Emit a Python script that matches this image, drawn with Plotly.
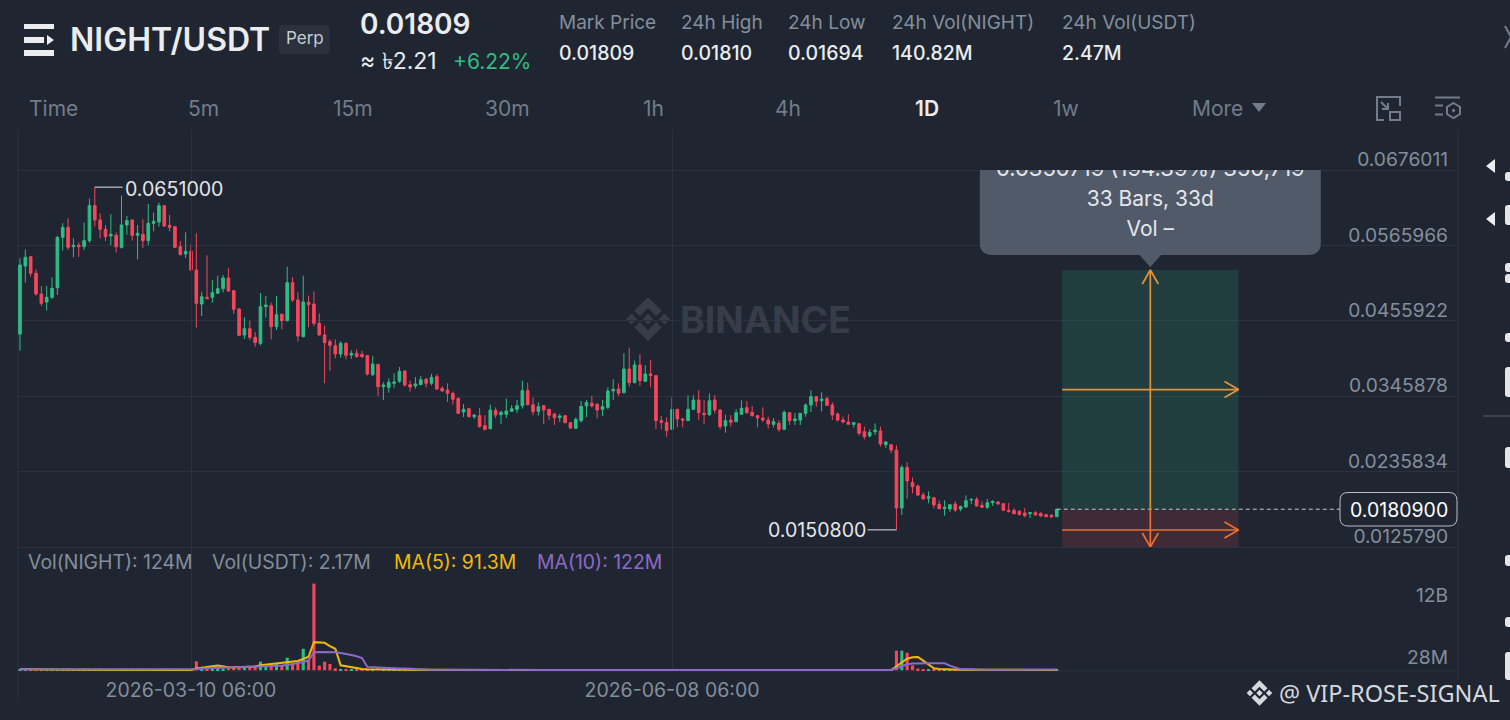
import pandas as pd
import plotly.graph_objects as go

# velas diarias
start_day = "2026-02-06 06:00"
opens = [
    .04367, .05359, .05495, .05252, .04950, .04834, .04902, .05043, .05777, .05923,
    .05641, .05661, .05641, .05729, .06240, .06030, .05894, .05797, .05807, .05632,
    .05957, .06030, .05807, .05821, .05729, .05982, .06001, .06240, .05953, .05933,
    .05641, .05534, .05573, .05301, .04804, .04902, .04902, .04960, .05028, .05184,
    .04999, .04731, .04352, .04444, .04318, .04230, .04766, .04780, .04474, .04654,
    .04561, .05116, .04863, .04328, .04829, .04804, .04522, .04352, .04255, .04196,
    .04075, .04230, .04060, .04085, .04070, .04051, .03773, .03924, .03598, .03588,
    .03647, .03676, .03827, .03627, .03608, .03627, .03705, .03647, .03744, .03574,
    .03549, .03501, .03428, .03228, .03277, .03160, .03175, .03029, .02985, .03253,
    .03189, .03194, .03238, .03267, .03321, .03540, .03335, .03238, .03321, .03267,
    .03199, .03146, .03175, .03073, .02990, .03102, .03316, .03355, .03340, .03267,
    .03296, .03535, .03564, .03510, .03856, .03656, .03914, .03676, .03783, .03759,
    .03102, .03077, .02975, .03267, .03126, .03102, .03267, .03403, .03209, .03189,
    .03403, .03257, .03024, .03111, .03087, .03194, .03291, .03223, .03175, .03140,
    .03111, .03048, .03063, .02975, .03218, .03102, .03111, .03209, .03330, .03452,
    .03393, .03423, .03330, .03199, .03111, .03082, .03048, .03058, .02941, .02878,
    .02941, .02951, .02751, .02751, .02673, .01827, .02420, .02201, .02148, .02017,
    .01968, .01978, .01880, .01817, .01812, .01885, .01812, .01841, .01944, .01953,
    .01866, .01837, .01905, .01914, .01890, .01793, .01793, .01778, .01754, .01744,
    .01759, .01749, .01730, .01720, .01700,
]
highs = [
    .05471, .05602, .05495, .05310, .05067, .05067, .05194, .05797, .05982, .06055,
    .05763, .05704, .05992, .06342, .06510, .06128, .05957, .06118, .05850, .06386,
    .06089, .06040, .05957, .06040, .06264, .06137, .06283, .06240, .06103, .05943,
    .05719, .05850, .05675, .05836, .04984, .05515, .05155, .05218, .05228, .05330,
    .05009, .04741, .04610, .04561, .04396, .04965, .04921, .04824, .04921, .04668,
    .05349, .05194, .04975, .05218, .04926, .04989, .04668, .04488, .04289, .04289,
    .04260, .04245, .04128, .04143, .04123, .04055, .04046, .03929, .03661, .03720,
    .03793, .03885, .03832, .03686, .03739, .03754, .03729, .03783, .03778, .03603,
    .03647, .03525, .03438, .03345, .03292, .03194, .03287, .03180, .03335, .03296,
    .03248, .03423, .03330, .03403, .03686, .03656, .03438, .03369, .03330, .03277,
    .03219, .03204, .03180, .03082, .03150, .03389, .03403, .03462, .03355, .03403,
    .03588, .03705, .03647, .04085, .04167, .03978, .04070, .03909, .03987, .03768,
    .03170, .03150, .03442, .03272, .03140, .03471, .03471, .03544, .03403, .03500,
    .03476, .03267, .03189, .03184, .03267, .03398, .03384, .03316, .03179, .03296,
    .03160, .03140, .03111, .03252, .03223, .03213, .03209, .03354, .03544, .03462,
    .03515, .03452, .03369, .03223, .03160, .03194, .03082, .03063, .03014, .02975,
    .03063, .03014, .02805, .02761, .02742, .02454, .02493, .02270, .02172, .02056,
    .02070, .01987, .01939, .01939, .01885, .01924, .01861, .02012, .01968, .01987,
    .01924, .01958, .01939, .01929, .01900, .01900, .01822, .01798, .01827, .01764,
    .01783, .01764, .01744, .01739, .01812,
]
lows = [
    .04123, .05116, .05203, .04926, .04775, .04707, .04877, .04936, .05583, .05593,
    .05486, .05495, .05593, .05700, .05933, .05758, .05724, .05661, .05554, .05612,
    .05816, .05729, .05456, .05622, .05661, .05865, .05933, .05933, .05865, .05622,
    .05515, .05476, .05291, .04459, .04629, .04882, .04824, .04950, .04975, .04984,
    .04659, .04337, .04294, .04279, .04182, .04201, .04605, .04289, .04425, .04435,
    .04551, .04834, .04255, .04318, .04464, .04483, .04342, .03647, .03832, .04012,
    .04021, .03997, .04002, .04021, .04016, .03759, .03754, .03462, .03403, .03510,
    .03583, .03656, .03598, .03525, .03569, .03622, .03588, .03618, .03549, .03525,
    .03374, .03335, .03199, .03155, .03150, .03126, .03004, .02956, .02975, .03141,
    .03053, .03141, .03228, .03214, .03277, .03326, .03180, .03175, .03053, .03112,
    .03039, .03082, .03063, .02980, .02980, .03073, .03155, .03292, .03136, .03170,
    .03267, .03403, .03462, .03501, .03598, .03647, .03608, .03666, .03588, .02980,
    .02975, .02868, .02975, .03004, .03004, .03097, .03267, .03111, .03048, .03170,
    .03209, .02975, .02926, .03014, .03082, .03189, .03204, .03160, .03004, .03082,
    .02990, .03004, .02941, .02965, .03038, .03038, .03038, .03160, .03228, .03306,
    .03238, .03316, .03111, .03092, .03063, .03043, .02999, .02883, .02829, .02858,
    .02892, .02722, .02703, .02625, .01508, .01725, .01963, .02041, .02002, .01953,
    .01895, .01822, .01807, .01715, .01769, .01769, .01778, .01832, .01885, .01846,
    .01832, .01812, .01856, .01876, .01788, .01759, .01734, .01715, .01691, .01681,
    .01715, .01700, .01691, .01691, .01695,
]
closes = [
    .05374, .05486, .05252, .04950, .04814, .04902, .05033, .05777, .05923, .05632,
    .05661, .05641, .05729, .06240, .06030, .05894, .05787, .05821, .05641, .05957,
    .06021, .05807, .05836, .05729, .05982, .06011, .06240, .05943, .05923, .05632,
    .05524, .05573, .05301, .04814, .04911, .04882, .04970, .05028, .05184, .04994,
    .04727, .04347, .04444, .04318, .04240, .04766, .04790, .04474, .04649, .04561,
    .05116, .04863, .04337, .04834, .04795, .04522, .04352, .04240, .04201, .04075,
    .04230, .04055, .04085, .04036, .04036, .03783, .03929, .03598, .03622, .03661,
    .03666, .03822, .03622, .03593, .03637, .03700, .03647, .03734, .03564, .03535,
    .03501, .03413, .03209, .03267, .03160, .03185, .03014, .02975, .03257, .03185,
    .03223, .03243, .03277, .03321, .03540, .03335, .03233, .03306, .03257, .03180,
    .03146, .03170, .03073, .02995, .03121, .03311, .03365, .03316, .03257, .03306,
    .03535, .03559, .03501, .03856, .03656, .03914, .03686, .03783, .03759, .03102,
    .03077, .02956, .03267, .03126, .03111, .03267, .03403, .03218, .03189, .03393,
    .03257, .03014, .03102, .03077, .03218, .03282, .03218, .03175, .03140, .03111,
    .03053, .03087, .02975, .03223, .03102, .03126, .03209, .03330, .03452, .03384,
    .03418, .03325, .03184, .03111, .03082, .03048, .03072, .02917, .02868, .02931,
    .02965, .02761, .02790, .02673, .01827, .02420, .02221, .02138, .02017, .01958,
    .01992, .01871, .01817, .01837, .01876, .01798, .01851, .01934, .01953, .01856,
    .01837, .01905, .01924, .01885, .01793, .01778, .01744, .01734, .01715, .01759,
    .01725, .01710, .01700, .01696, .01809,
]

# volumen y medias, en millones
volumes = [
    80, 70, 60, 55, 50, 45, 40, 40, 35, 35,
    30, 30, 30, 28, 28, 28, 28, 28, 28, 28,
    28, 28, 28, 28, 28, 28, 28, 28, 28, 28,
    28, 28, 28, 1710, 190, 250, 380, 380, 320, 570,
    510, 510, 640, 700, 700, 1650, 700, 760, 1400, 890,
    2410, 1270, 1400, 4130, 1900, 16640, 890, 1650, 1200, 380,
    250, 250, 190, 130, 130, 130, 100, 500, 190, 160,
    130, 90, 80, 70, 60, 50, 45, 40, 40, 35,
    35, 30, 30, 30, 30, 30, 30, 35, 35, 30,
    30, 30, 30, 30, 30, 35, 35, 30, 30, 30,
    30, 30, 30, 30, 30, 30, 30, 35, 35, 30,
    30, 30, 40, 60, 70, 55, 60, 50, 50, 90,
    80, 45, 60, 40, 35, 40, 35, 40, 35, 35,
    30, 35, 30, 30, 30, 30, 30, 30, 30, 30,
    30, 30, 30, 35, 30, 30, 30, 35, 40, 30,
    30, 30, 35, 30, 30, 30, 30, 35, 35, 30,
    30, 40, 30, 35, 3750, 3750, 3370, 950, 320, 60,
    100, 50, 40, 40, 35, 35, 30, 35, 30, 30,
    30, 30, 30, 28, 28, 28, 28, 28, 28, 28,
    28, 28, 28, 28, 124,
]
ma5 = [
    250, 250, 250, 220, 190, 160, 130, 130, 130, 120,
    110, 100, 100, 90, 90, 80, 80, 80, 70, 70,
    70, 70, 65, 65, 65, 65, 60, 60, 60, 60,
    60, 60, 60, 320, 510, 700, 760, 890, 700, 570,
    570, 570, 570, 640, 700, 950, 1080, 1140, 1270, 1330,
    1460, 1650, 1780, 2160, 2600, 5400, 5330, 5270, 4640, 4130,
    950, 760, 570, 320, 250, 190, 160, 130, 120, 110,
    100, 95, 90, 80, 75, 70, 65, 60, 55, 55,
    50, 50, 50, 50, 50, 50, 50, 50, 50, 50,
    50, 50, 50, 50, 50, 50, 50, 50, 50, 50,
    50, 50, 50, 50, 50, 50, 50, 50, 50, 50,
    50, 50, 55, 60, 65, 70, 70, 65, 65, 70,
    75, 70, 65, 60, 55, 50, 50, 50, 50, 50,
    50, 50, 50, 50, 50, 50, 50, 50, 50, 50,
    50, 50, 50, 50, 50, 50, 50, 50, 50, 50,
    50, 50, 50, 50, 50, 50, 50, 50, 50, 50,
    50, 50, 50, 50, 760, 1520, 2220, 2480, 2540, 1840,
    1080, 380, 250, 190, 190, 130, 110, 100, 90, 80,
    75, 70, 70, 65, 65, 60, 60, 55, 55, 50,
    50, 50, 50, 50, 91,
]
ma10 = [
    200, 200, 190, 180, 170, 150, 130, 120, 110, 100,
    100, 90, 90, 85, 80, 80, 75, 70, 70, 65,
    65, 65, 60, 60, 60, 60, 60, 60, 60, 60,
    60, 60, 60, 190, 320, 380, 440, 510, 510, 510,
    570, 570, 600, 640, 640, 670, 700, 760, 830, 900,
    1020, 1200, 1330, 1590, 1900, 3430, 3490, 3490, 3490, 3430,
    3300, 3180, 2920, 2670, 2350, 640, 570, 510, 440, 380,
    380, 320, 320, 250, 190, 190, 130, 110, 100, 90,
    80, 70, 65, 60, 60, 55, 55, 55, 50, 50,
    50, 50, 50, 50, 50, 50, 50, 50, 50, 50,
    50, 50, 50, 50, 50, 50, 50, 50, 50, 50,
    50, 50, 50, 55, 60, 65, 65, 65, 65, 65,
    70, 70, 65, 60, 60, 55, 55, 55, 50, 50,
    50, 50, 50, 50, 50, 50, 50, 50, 50, 50,
    50, 50, 50, 50, 50, 50, 50, 50, 50, 50,
    50, 50, 50, 50, 50, 50, 50, 50, 50, 50,
    50, 50, 50, 50, 380, 760, 1140, 1270, 1330, 1330,
    1330, 1330, 1330, 1330, 890, 510, 190, 250, 190, 190,
    130, 110, 100, 90, 80, 75, 70, 70, 65, 60,
    60, 55, 55, 50, 122,
]

price_ticks = [0.0676011, 0.0565966, 0.0455922, 0.0345878, 0.0235834, 0.0125790]
price_labels = ["0.0676011", "0.0565966", "0.0455922", "0.0345878", "0.0235834", "0.0125790"]
vol_ticks = [28, 12000]
vol_labels = ["28M", "12B"]
date_ticks = ["2026-03-10 06:00", "2026-06-08 06:00"]

# herramienta de medida: objetivo, entrada, stop
target_price = 0.05301
entry_price = 0.01809
stop_price = 0.01258
down_arrow_price = 0.01506

BG = "#1f2631"
GRID = "#2b323e"
GREEN = "#2ebd85"
RED = "#f6465d"
GRAY = "#848e9c"
DIM = "#737c89"
FONT = "Inter"

W, H = 1510, 720
PX_PRICE = 0.00014595  # precio por pixel

days = pd.date_range(start_day, periods=len(opens), freq="D")
day0 = pd.Timestamp(start_day)


def day(n):
    return day0 + pd.Timedelta(days=n)


def dpath(n):
    return day(n).strftime("%Y-%m-%d_%H:%M:%S")


def p(x, y):
    return f"{x / W:.5f},{1 - y / H:.5f}"


def rounded(x0, y0, x1, y1, r):
    return (f"M{p(x0 + r, y0)} L{p(x1 - r, y0)} Q{p(x1, y0)} {p(x1, y0 + r)} "
            f"L{p(x1, y1 - r)} Q{p(x1, y1)} {p(x1 - r, y1)} L{p(x0 + r, y1)} "
            f"Q{p(x0, y1)} {p(x0, y1 - r)} L{p(x0, y0 + r)} Q{p(x0, y0)} {p(x0 + r, y0)} Z")


def poly(points):
    return "M" + " L".join(p(x, y) for x, y in points) + " Z"


def logo(cx, cy, s):
    parts = [
        [(0, -2.4), (2.4, 0), (0, 2.4), (-2.4, 0)],
        [(-9.5, 0), (-7.1, -2.4), (-4.7, 0), (-7.1, 2.4)],
        [(9.5, 0), (7.1, -2.4), (4.7, 0), (7.1, 2.4)],
        [(0, -9.5), (5.9, -3.6), (3.5, -1.2), (0, -4.7), (-3.5, -1.2), (-5.9, -3.6)],
        [(0, 9.5), (5.9, 3.6), (3.5, 1.2), (0, 4.7), (-3.5, 1.2), (-5.9, 3.6)],
    ]
    return " ".join(poly([(cx + a * s, cy + b * s) for a, b in part]) for part in parts)


shapes = []
notes = []


def fill(path, color, layer="above"):
    shapes.append(dict(type="path", path=path, xref="paper", yref="paper", fillcolor=color,
                       line=dict(width=0), layer=layer))


def stroke(path, color, width=2, layer="above", fillcolor=None):
    shapes.append(dict(type="path", path=path, xref="paper", yref="paper",
                       fillcolor=fillcolor or "rgba(0,0,0,0)",
                       line=dict(color=color, width=width), layer=layer))


def text(x, y, s, size, color, anchor="left", weight=400, font=FONT):
    notes.append(dict(text=s, x=x / W, y=1 - y / H, xref="paper", yref="paper", xanchor=anchor,
                      yanchor="middle", showarrow=False, borderpad=0,
                      font=dict(size=size, color=color, family=font, weight=weight)))


# cabecera
fill(poly([(24, 24), (54, 24), (54, 29), (24, 29)]), "#eaecef")
fill(poly([(24, 37), (44, 37), (44, 43), (24, 43)]), "#eaecef")
fill(poly([(47, 35), (54, 40), (47, 45)]), "#eaecef")
fill(poly([(24, 50), (54, 50), (54, 56), (24, 56)]), "#eaecef")
text(69, 39, "NIGHT/USDT", 32, "#eaecef", weight=600)
fill(rounded(279, 25, 330, 54, 4), "#2a313c")
text(304.5, 38, "Perp", 17, "#c9cdd3", "center")
text(359, 24, "0.01809", 28, "#eaecef", weight=600)
text(359, 61, "≈ ৳2.21", 23, "#eaecef")
text(452, 61, "+6.22%", 21, GREEN)

stat_names = ["Mark Price", "24h High", "24h Low", "24h Vol(NIGHT)", "24h Vol(USDT)"]
stat_values = ["0.01809", "0.01810", "0.01694", "140.82M", "2.47M"]
stat_x = [558, 680, 787, 891, 1061]
for name, value, x in zip(stat_names, stat_values, stat_x):
    text(x, 22, name, 19, GRAY)
    text(x, 53, value, 19.5, "#eaecef", weight=500)

tab_names = ["Time", "5m", "15m", "30m", "1h", "4h", "1D", "1w", "More"]
tab_x = [53, 203, 353, 507, 653, 788, 927, 1066, 1217]
for name, x in zip(tab_names, tab_x):
    if name == "1D":
        text(x, 108, name, 21, "#eaecef", "center", 600)
    else:
        text(x, 108, name, 21, DIM, "center")
fill(poly([(1252, 103), (1266, 103), (1259, 112)]), DIM)

# iconos
stroke(f"M{p(1384, 120)} L{p(1377, 120)} L{p(1377, 97)} L{p(1400, 97)} L{p(1400, 106)}", DIM, 2)
stroke(poly([(1390, 112), (1400, 112), (1400, 120), (1390, 120)]), DIM, 2)
stroke(f"M{p(1381, 102)} L{p(1388, 109)} M{p(1388, 103)} L{p(1388, 109)} L{p(1382, 109)}", DIM, 2)
stroke(f"M{p(1435, 97.5)} L{p(1460, 97.5)} M{p(1435, 105.5)} L{p(1443, 105.5)} M{p(1435, 114.5)} L{p(1443, 114.5)}", DIM, 2)
stroke(poly([(1453.5, 103), (1460, 107), (1460, 114), (1453.5, 118), (1447, 114), (1447, 107)]), DIM, 2)
fill(poly([(1453.5, 108.5), (1455.5, 110.5), (1453.5, 112.5), (1451.5, 110.5)]), DIM)
stroke(f"M{p(1505, 26)} L{p(1511, 37)} L{p(1505, 48)}", DIM, 2)

# barra derecha cortada
fill(poly([(1486, 166), (1495, 159), (1495, 173)]), "#eaecef")
fill(poly([(1486, 219), (1495, 212), (1495, 226)]), "#eaecef")
for y0, y1 in [(172, 181), (205, 225), (263, 272), (274, 283), (333, 342), (367, 397), (447, 468),
               (555, 566), (617, 627), (652, 680)]:
    fill(rounded(1505, y0, 1514, y1, 3), "#e3e5e8")
stroke(f"M{p(1483, 416)} L{p(1510, 416)}", "#39414d", 2)

# marca de agua
fill(logo(648, 319, 2.32), "#363d49", "below")
text(679, 319, "BINANCE", 37.5, "#363d49", weight=700)
fill(logo(1259.5, 693, 1.35), "#d5d8dc")
text(1501, 693, "@ VIP-ROSE-SIGNAL", 23.5, "#d5d8dc", "right", font="Noto Sans")

# ejes verticales y base
shapes.append(dict(type="line", xref="paper", yref="paper", x0=18 / W, x1=18 / W, y0=1 - 700 / H, y1=1 - 130 / H,
                   line=dict(color=GRID, width=1), layer="below"))
shapes.append(dict(type="line", xref="paper", yref="paper", x0=1458 / W, x1=1458 / W, y0=1 - 680 / H, y1=1 - 130 / H,
                   line=dict(color=GRID, width=1), layer="below"))
shapes.append(dict(type="line", xref="paper", yref="paper", x0=18 / W, x1=1458 / W, y0=1 - 671 / H, y1=1 - 671 / H,
                   line=dict(color=GRID, width=1), layer="below"))

# leyenda del volumen
text(27, 562, "Vol(NIGHT): 124M", 19.4, GRAY)
text(211, 562, "Vol(USDT): 2.17M", 19.4, GRAY)
text(393, 562, "MA(5): 91.3M", 19.4, "#f0b90b")
text(536, 562, "MA(10): 122M", 19.4, "#8e6ac8")

# precio actual
fill(rounded(1340, 492.5, 1457, 526, 8), BG)
stroke(rounded(1340, 492.5, 1457, 526, 8), "#b9bec6", 1)
text(1448.5, 510, "0.0180900", 19.5, "#ffffff", "right")

# rectangulos de la medida
start_tool = 163 + 32
end_tool = 196 + 32
mid_tool = (start_tool + end_tool) / 2
shapes.append(dict(type="rect", xref="x", yref="y3", x0=day(start_tool), x1=day(end_tool),
                   y0=entry_price, y1=target_price, fillcolor="rgba(46,189,133,0.16)",
                   line=dict(width=0), layer="between"))
shapes.append(dict(type="rect", xref="x", yref="y3", x0=day(start_tool), x1=day(end_tool),
                   y0=stop_price, y1=entry_price, fillcolor="rgba(246,70,93,0.15)",
                   line=dict(width=0), layer="between"))

# globo de la medida (se corta arriba con el eje y3)
box_l, box_r = mid_tool - 31.9, mid_tool + 31.9
box_bottom = 0.05520
box_top = 0.0690
dr = 2.4
yr = 12 * PX_PRICE
tip = 0.05340
shapes.append(dict(
    type="path", xref="x", yref="y3", layer="between", fillcolor="#505a69", line=dict(width=0),
    path=(f"M{dpath(box_l)},{box_top} L{dpath(box_r)},{box_top} L{dpath(box_r)},{box_bottom + yr} "
          f"Q{dpath(box_r)},{box_bottom} {dpath(box_r - dr)},{box_bottom} "
          f"L{dpath(mid_tool + 2)},{box_bottom} L{dpath(mid_tool)},{tip} L{dpath(mid_tool - 2)},{box_bottom} "
          f"L{dpath(box_l + dr)},{box_bottom} Q{dpath(box_l)},{box_bottom} {dpath(box_l)},{box_bottom + yr} Z"),
))

fig = go.Figure()

fig.add_trace(go.Candlestick(
    x=days, open=opens, high=highs, low=lows, close=closes, yaxis="y", xaxis="x",
    increasing=dict(line=dict(color=GREEN, width=1), fillcolor=GREEN),
    decreasing=dict(line=dict(color=RED, width=1), fillcolor=RED),
    showlegend=False, hoverinfo="skip",
))

vol_colors = [GREEN if c >= o else RED for o, c in zip(opens, closes)]
fig.add_trace(go.Bar(x=days, y=volumes, marker=dict(color=vol_colors, line=dict(width=0)), yaxis="y2", xaxis="x",
                     showlegend=False, hoverinfo="skip"))
fig.add_trace(go.Scatter(x=days, y=ma5, mode="lines", line=dict(color="#f0b90b", width=2), yaxis="y2", xaxis="x",
                         showlegend=False, hoverinfo="skip"))
fig.add_trace(go.Scatter(x=days, y=ma10, mode="lines", line=dict(color="#8e6ac8", width=2), yaxis="y2", xaxis="x",
                         showlegend=False, hoverinfo="skip"))

# maximo y minimo
high_i = highs.index(max(highs))
low_i = lows.index(min(lows))
fig.add_trace(go.Scatter(
    x=[days[high_i], days[high_i] + pd.Timedelta(days=5.2), None, days[low_i], days[low_i] - pd.Timedelta(days=5.4)],
    y=[max(highs), max(highs), None, min(lows), min(lows)],
    mode="lines", line=dict(color="#e3e5e8", width=1), yaxis="y", xaxis="x", showlegend=False, hoverinfo="skip",
))
notes.append(dict(text="0.0651000", x=days[high_i] + pd.Timedelta(days=5.2), y=max(highs), xref="x", yref="y",
                  xanchor="left", yanchor="middle", yshift=-2, showarrow=False,
                  font=dict(size=19.6, color="#e3e5e8", family=FONT)))
notes.append(dict(text="0.0150800", x=days[low_i] - pd.Timedelta(days=5.4), y=min(lows), xref="x", yref="y",
                  xanchor="right", yanchor="middle", showarrow=False,
                  font=dict(size=19.6, color="#e3e5e8", family=FONT)))

# linea de precio actual
fig.add_trace(go.Scatter(x=[days[-1], day(215 + 32)], y=[closes[-1], closes[-1]], mode="lines",
                         line=dict(color="#c3c7cd", width=1, dash="4px,3px"), yaxis="y3", xaxis="x",
                         showlegend=False, hoverinfo="skip"))

# flechas de la medida
head_x = 14 / 5.3444
half_x = 8 / 5.3444
head_y = 14 * PX_PRICE
half_y = 8 * PX_PRICE
up_mid = (target_price + entry_price) / 2
ORANGE = "#e2943c"
DARK_ORANGE = "#ee6f2f"
fig.add_trace(go.Scatter(
    x=[day(mid_tool), day(mid_tool), None,
       day(mid_tool - half_x), day(mid_tool), day(mid_tool + half_x), None,
       day(start_tool), day(end_tool), None,
       day(end_tool - head_x), day(end_tool), day(end_tool - head_x)],
    y=[entry_price, target_price, None,
       target_price - head_y, target_price, target_price - head_y, None,
       up_mid, up_mid, None,
       up_mid + half_y, up_mid, up_mid - half_y],
    mode="lines", line=dict(color=ORANGE, width=1.7), yaxis="y3", xaxis="x", showlegend=False, hoverinfo="skip",
))
fig.add_trace(go.Scatter(
    x=[day(mid_tool), day(mid_tool), None,
       day(mid_tool - half_x), day(mid_tool), day(mid_tool + half_x), None,
       day(start_tool), day(end_tool), None,
       day(end_tool - head_x), day(end_tool), day(end_tool - head_x)],
    y=[entry_price, stop_price, None,
       stop_price + head_y, stop_price, stop_price + head_y, None,
       down_arrow_price, down_arrow_price, None,
       down_arrow_price + half_y, down_arrow_price, down_arrow_price - half_y],
    mode="lines", line=dict(color=DARK_ORANGE, width=1.7), yaxis="y3", xaxis="x", showlegend=False, hoverinfo="skip",
))

# texto del globo
fig.add_trace(go.Scatter(
    x=[day(mid_tool)] * 3,
    y=[0.06750, 0.06310, 0.05875],
    text=["0.0350719 (194.39%) 350,719", "33 Bars, 33d", "Vol –"],
    mode="text", textposition="middle center", cliponaxis=True,
    textfont=dict(size=[22, 21, 21], color="#e4e7eb", family=FONT),
    yaxis="y3", xaxis="x", showlegend=False, hoverinfo="skip",
))

fig.update_layout(
    width=W, height=H, margin=dict(l=0, r=0, t=0, b=0),
    paper_bgcolor=BG, plot_bgcolor="rgba(0,0,0,0)",
    font=dict(family=FONT, color=GRAY, size=18),
    bargap=0.42, hovermode=False, dragmode=False,
    shapes=shapes, annotations=notes,
    xaxis=dict(
        type="date", domain=[18 / W, 1458 / W], anchor="y2",
        range=[day(-0.37), day(269.07)],
        tickmode="array", tickvals=date_ticks, ticktext=date_ticks, ticks="", ticklabelstandoff=5,
        showgrid=True, gridcolor=GRID, gridwidth=1, zeroline=False, showline=False,
        rangeslider=dict(visible=False), tickfont=dict(size=19.5, color=GRAY),
    ),
    yaxis=dict(
        domain=[1 - 549 / H, 1 - 130 / H], anchor="x", side="right",
        range=[0.012287, 0.0734391], tickmode="array", tickvals=price_ticks, ticktext=price_labels,
        ticks="", ticklabelposition="inside top", ticklabeloverflow="allow",
        ticklabelstandoff=7, ticklabelshift=3,
        showgrid=True, gridcolor=GRID, gridwidth=1, zeroline=False, showline=False,
        tickfont=dict(size=19.2, color=GRAY),
    ),
    yaxis2=dict(
        domain=[1 - 671 / H, 1 - 549 / H], anchor="x", side="right",
        range=[-150, 23300], tickmode="array", tickvals=vol_ticks, ticktext=vol_labels,
        ticks="", ticklabelposition="inside top", ticklabeloverflow="allow",
        ticklabelstandoff=7, ticklabelshift=1,
        showgrid=False, zeroline=False, showline=False,
        tickfont=dict(size=19.2, color=GRAY),
    ),
    yaxis3=dict(
        domain=[1 - 547 / H, 1 - 170 / H], anchor="x", visible=False,
        range=[price_ticks[-1], price_ticks[0]], showgrid=False, zeroline=False,
    ),
)

fig.write_html("out.html", config=dict(displayModeBar=False),
               post_script="document.body.style.margin='0';document.body.style.overflow='hidden';")
